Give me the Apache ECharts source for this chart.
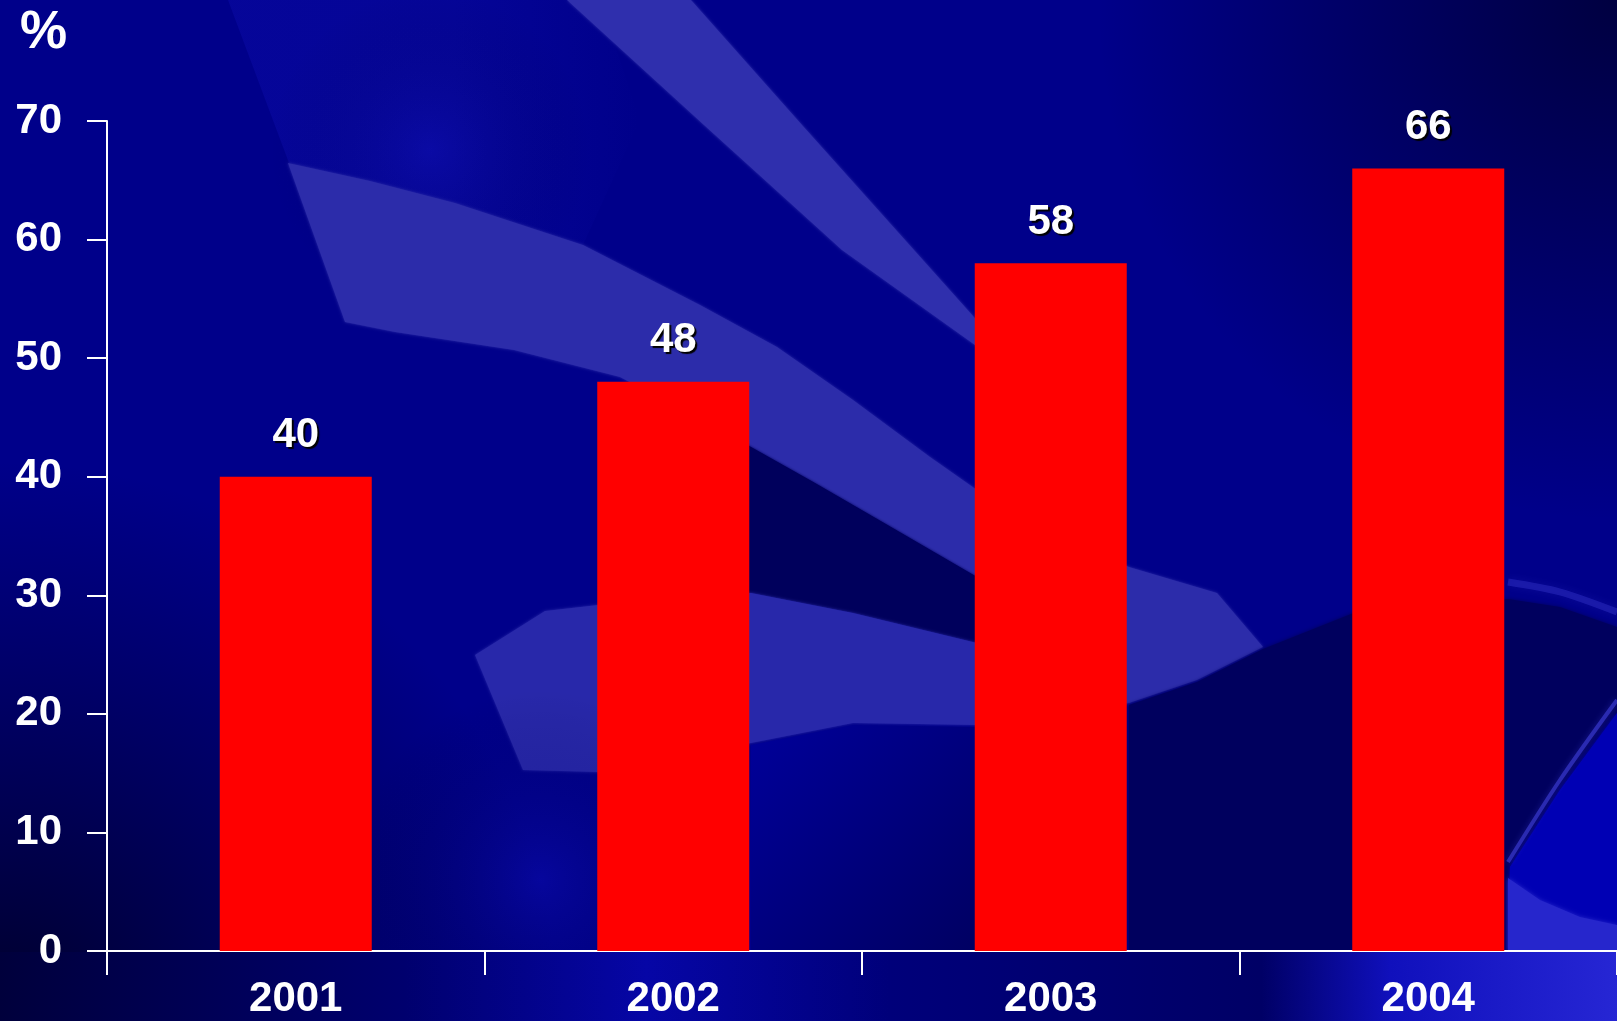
<!DOCTYPE html>
<html>
<head>
<meta charset="utf-8">
<title>%</title>
<script src="https://cdn.jsdelivr.net/npm/echarts@6/dist/echarts.min.js"></script>
<style>
  html, body { margin: 0; padding: 0; background: #00008a; overflow: hidden; }
  #chart { width: 1617px; height: 1021px; }
</style>
</head>
<body>
<div id="chart"></div>
<script>
// Share per year, in percent
const years = ['2001', '2002', '2003', '2004'];
const shares = [40, 48, 58, 66];

// Value axis range and step
const yMin = 0;
const yMax = 70;
const yStep = 10;

const FONT = '"Liberation Sans", Arial, Helvetica, sans-serif';

// Decorative backdrop: deep blue slide with translucent light swooshes
function poly(points, fill, blur) {
  return {
    type: 'polygon', z: -50, silent: true,
    shape: { points: points },
    style: { fill: fill, shadowBlur: blur == null ? 3 : blur, shadowColor: fill }
  };
}
function glow(cx, cy, r, color) {
  return {
    type: 'circle', z: -50, silent: true,
    shape: { cx: cx, cy: cy, r: r },
    style: {
      fill: new echarts.graphic.RadialGradient(0.5, 0.5, 0.5, [
        { offset: 0, color: color },
        { offset: 1, color: 'rgba(0,0,40,0)' }
      ])
    }
  };
}

const backdrop = [
  { type: 'rect', z: -60, silent: true, shape: { x: 0, y: 0, width: 1617, height: 1021 }, style: { fill: '#00008a' } },
  // soft lighter wedge at the top, fading to the right
  {
    type: 'polygon', z: -50, silent: true,
    shape: { points: [[228, 0], [600, 0], [640, 120], [583, 245], [455, 203], [289, 163]] },
    style: {
      fill: new echarts.graphic.LinearGradient(0, 0, 1, 0, [
        { offset: 0, color: 'rgba(25,25,205,0.22)' },
        { offset: 0.55, color: 'rgba(25,25,205,0.20)' },
        { offset: 1, color: 'rgba(25,25,205,0)' }
      ])
    }
  },
  glow(430, 150, 160, 'rgba(30,30,210,0.22)'),
  // darker corners
  glow(1617, 0, 520, 'rgba(0,0,40,0.75)'),
  glow(0, 1021, 560, 'rgba(0,0,25,0.85)'),
  // upper diagonal band
  poly([[567, 0], [691, 0], [802, 125], [914, 250], [990, 335], [975, 345], [842, 250], [704, 125]], '#2f2fad'),
  // large middle swoosh
  poly([[288, 163], [370, 181], [455, 203], [583, 245], [700, 305], [777, 347], [853, 400], [930, 457],
        [977, 490], [1050, 530], [1129, 567], [1217, 593], [1263, 647], [1197, 680], [1129, 703],
        [1050, 690], [977, 577], [891, 527], [815, 483], [751, 447], [620, 377], [514, 350],
        [395, 332], [345, 322]], '#2c2caa'),
  // dark wedge between the swooshes
  poly([[700, 420], [751, 447], [815, 483], [891, 527], [977, 577], [1050, 610], [1050, 640],
        [977, 643], [853, 613], [751, 593], [700, 594]], '#00005c'),
  // lower swoosh
  poly([[475, 655], [545, 611], [598, 605], [700, 594], [751, 593], [853, 613], [977, 643],
        [1050, 660], [1129, 703], [977, 725], [853, 723], [751, 743], [650, 765], [598, 772],
        [523, 770]], '#2828aa'),
  glow(540, 880, 190, 'rgba(20,20,195,0.32)'),
  // shaded area beneath the lower swoosh
  {
    type: 'polygon', z: -50, silent: true,
    shape: { points: [[751, 745], [853, 725], [977, 727], [977, 951], [751, 951]] },
    style: {
      fill: new echarts.graphic.LinearGradient(0, 0, 1, 1, [
        { offset: 0, color: '#00009a' },
        { offset: 1, color: '#000062' }
      ])
    }
  },
  // dark region on the right
  poly([[1129, 705], [1197, 682], [1263, 649], [1356, 612], [1508, 599], [1560, 607], [1617, 627],
        [1617, 713], [1560, 790], [1510, 867], [1508, 951], [1129, 951]], '#00005e', 4),
  poly([[1617, 713], [1560, 790], [1510, 867], [1508, 951], [1617, 951]], '#0000b4', 4),
  poly([[1508, 878], [1540, 900], [1580, 917], [1617, 925], [1617, 951], [1508, 951]], '#2626cc', 4),
  {
    type: 'polyline', z: -49, silent: true,
    shape: { points: [[1617, 700], [1560, 780], [1508, 862]], smooth: 0.3 },
    style: { stroke: 'rgba(70,70,230,0.55)', lineWidth: 4, fill: null, shadowBlur: 6, shadowColor: 'rgba(70,70,230,0.6)' }
  },
  {
    type: 'polyline', z: -49, silent: true,
    shape: { points: [[1508, 582], [1560, 592], [1617, 612]], smooth: 0.3 },
    style: { stroke: 'rgba(50,50,200,0.45)', lineWidth: 7, fill: null, shadowBlur: 8, shadowColor: 'rgba(50,50,200,0.5)' }
  },
  // strip under the category axis
  {
    type: 'rect', z: -48, silent: true,
    shape: { x: 0, y: 952, width: 1617, height: 69 },
    style: {
      fill: new echarts.graphic.LinearGradient(0, 0, 1, 0, [
        { offset: 0, color: '#00003c' },
        { offset: 0.25, color: '#00006e' },
        { offset: 0.4, color: '#0606a6' },
        { offset: 0.55, color: '#00007a' },
        { offset: 0.78, color: '#000066' },
        { offset: 0.86, color: '#1010bc' },
        { offset: 1, color: '#2626d4' }
      ])
    }
  }
];

const chart = echarts.init(document.getElementById('chart'), null, { renderer: 'canvas' });

chart.setOption({
  animation: false,
  backgroundColor: 'transparent',
  title: {
    text: '%',
    left: 20,
    top: 7,
    padding: 0,
    textStyle: { color: '#ffffff', fontSize: 53, fontWeight: 'bold', fontFamily: FONT }
  },
  graphic: { elements: backdrop },
  grid: { left: 107, top: 121, width: 1512, height: 830, containLabel: false },
  xAxis: {
    type: 'category',
    data: years,
    boundaryGap: true,
    axisLine: { show: true, lineStyle: { color: '#ffffff', width: 2 } },
    axisTick: { show: true, length: 24, inside: false, lineStyle: { color: '#ffffff', width: 2 } },
    axisLabel: {
      color: '#ffffff', fontSize: 42, fontWeight: 'bold', fontFamily: FONT,
      margin: 48, verticalAlign: 'middle'
    },
    splitLine: { show: false }
  },
  yAxis: {
    type: 'value',
    min: yMin,
    max: yMax,
    interval: yStep,
    axisLine: { show: true, lineStyle: { color: '#ffffff', width: 2 } },
    axisTick: { show: true, length: 20, inside: false, lineStyle: { color: '#ffffff', width: 2 } },
    axisLabel: { color: '#ffffff', fontSize: 42, fontWeight: 'bold', fontFamily: FONT, margin: 45 },
    splitLine: { show: false }
  },
  series: [{
    type: 'bar',
    data: shares,
    barWidth: 152,
    itemStyle: { color: '#ff0000' },
    label: {
      show: true,
      position: 'top',
      distance: 20,
      color: '#ffffff',
      fontSize: 42,
      fontWeight: 'bold',
      fontFamily: FONT,
      textShadowColor: '#000000',
      textShadowOffsetX: 2,
      textShadowOffsetY: 2,
      textShadowBlur: 1
    }
  }]
});
</script>
</body>
</html>
